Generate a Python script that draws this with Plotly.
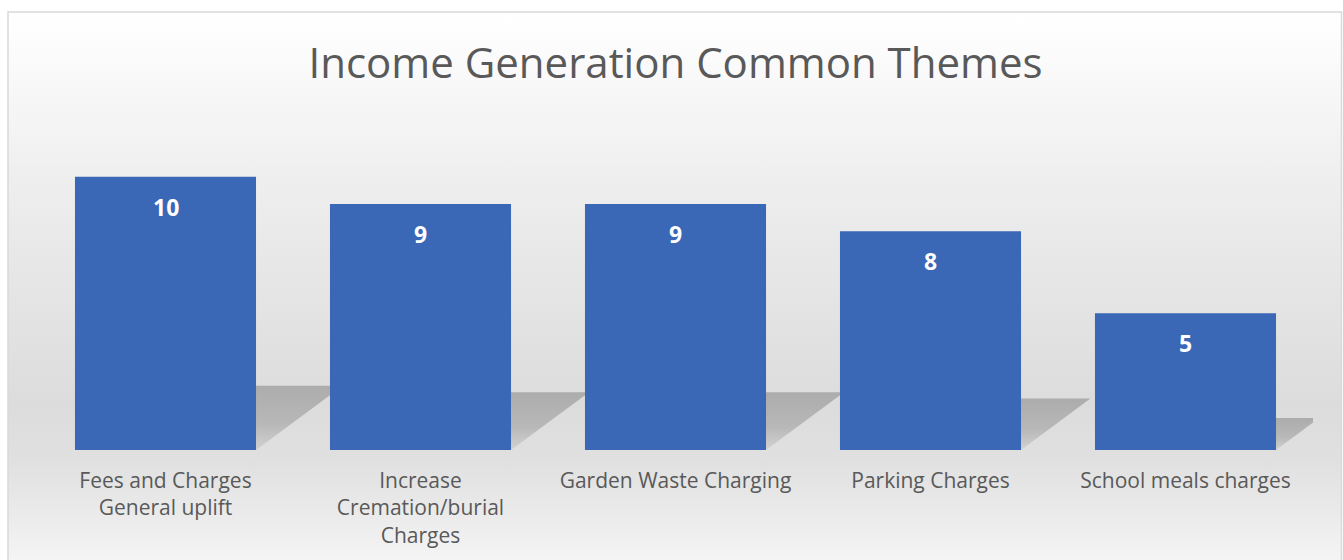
import base64
import plotly.graph_objects as go

categories = ["Fees and Charges<br>General uplift",
              "Increase<br>Cremation/burial<br>Charges",
              "Garden Waste Charging",
              "Parking Charges",
              "School meals charges"]
values = [10, 9, 9, 8, 5]
title_text = "Income Generation Common Themes"

W, H = 1343, 560
L, R, T, B = 38, 30, 122, 110
PW, PH = W - L - R, H - T - B
BAR_HALF = 0.355
YMAX = 12


def px_x(p):
    return (p - L) / PW


def px_y(p):
    return (H - B - p) / PH


fig = go.Figure()

# shadows cast behind each bar (derived from data values), on the lower subplot
for i, v in enumerate(values):
    dx = 0.034 * v
    top = 0.235 * v
    xs = [i - BAR_HALF, i + BAR_HALF, i + BAR_HALF + dx, i - BAR_HALF + dx, i - BAR_HALF]
    ys = [0, 0, top, top, 0]
    fig.add_trace(go.Scatter(
        x=xs, y=ys, mode="lines", fill="toself",
        line=dict(width=0, color="rgba(0,0,0,0)"),
        fillgradient=dict(type="vertical",
                          colorscale=[[0, "#d2d2d2"], [0.4, "#b8b8b8"], [1, "#acacac"]]),
        hoverinfo="skip", showlegend=False, xaxis="x", yaxis="y"))

# bars on an overlaying subplot so they sit above the shadows
fig.add_trace(go.Bar(
    x=list(range(len(values))), y=values,
    marker=dict(color="#3b67b7", line=dict(width=0)),
    width=2 * BAR_HALF, showlegend=False, hoverinfo="skip",
    xaxis="x2", yaxis="y2"))

for i, v in enumerate(values):
    fig.add_annotation(x=i, y=v, xref="x2", yref="y2", text=f"<b>{v}</b>", showarrow=False,
                       yanchor="middle", yshift=-30,
                       font=dict(family="Open Sans", size=23, color="#ffffff"))

svg = (
    f'<svg xmlns="http://www.w3.org/2000/svg" width="{W}" height="{H}" viewBox="0 0 {W} {H}" '
    'preserveAspectRatio="none"><defs><linearGradient id="g" x1="0" y1="0" x2="0" y2="1">'
    '<stop offset="0" stop-color="#ffffff"/>'
    '<stop offset="0.03" stop-color="#fefefe"/>'
    '<stop offset="0.30" stop-color="#eeeeee"/>'
    '<stop offset="0.70" stop-color="#dcdcdc"/>'
    '<stop offset="0.80" stop-color="#e0e0e0"/>'
    '<stop offset="0.90" stop-color="#ebebeb"/>'
    '<stop offset="1" stop-color="#f7f7f7"/>'
    '</linearGradient></defs>'
    f'<rect x="0" y="0" width="{W}" height="{H}" fill="#ffffff"/>'
    f'<rect x="8" y="12" width="{W - 9}" height="{H}" fill="url(#g)"/></svg>'
)
src = "data:image/svg+xml;base64," + base64.b64encode(svg.encode()).decode()

fig.add_layout_image(dict(source=src, xref="paper", yref="paper",
                          x=px_x(0), y=px_y(0), sizex=W / PW, sizey=H / PH,
                          xanchor="left", yanchor="top", sizing="stretch", layer="below"))

fig.add_shape(type="rect", xref="paper", yref="paper",
              x0=px_x(8), x1=px_x(W - 1.5), y0=px_y(H + 10), y1=px_y(12),
              line=dict(color="#d9d9d9", width=1.5), fillcolor="rgba(0,0,0,0)", layer="above")

xr = [-0.5, len(values) - 0.5]
fig.update_layout(
    width=W, height=H,
    margin=dict(l=L, r=R, t=T, b=B),
    paper_bgcolor="#ffffff", plot_bgcolor="rgba(0,0,0,0)",
    title=dict(text=title_text, x=0.5, xref="paper", xanchor="center",
               y=1 - 63 / H, yref="container", yanchor="middle",
               font=dict(family="Open Sans", size=42, color="#595959")),
    xaxis=dict(range=xr, tickvals=list(range(len(values))),
               ticktext=categories, showgrid=False, zeroline=False, showline=False,
               ticks="", ticklabelstandoff=16,
               tickfont=dict(family="Open Sans", size=21, color="#595959")),
    yaxis=dict(range=[0, YMAX], visible=False, showgrid=False, zeroline=False),
    xaxis2=dict(range=xr, overlaying="x", visible=False, showgrid=False, zeroline=False),
    yaxis2=dict(range=[0, YMAX], overlaying="y", visible=False, showgrid=False, zeroline=False),
    bargap=0.29,
)

fig.write_html("out.html")
